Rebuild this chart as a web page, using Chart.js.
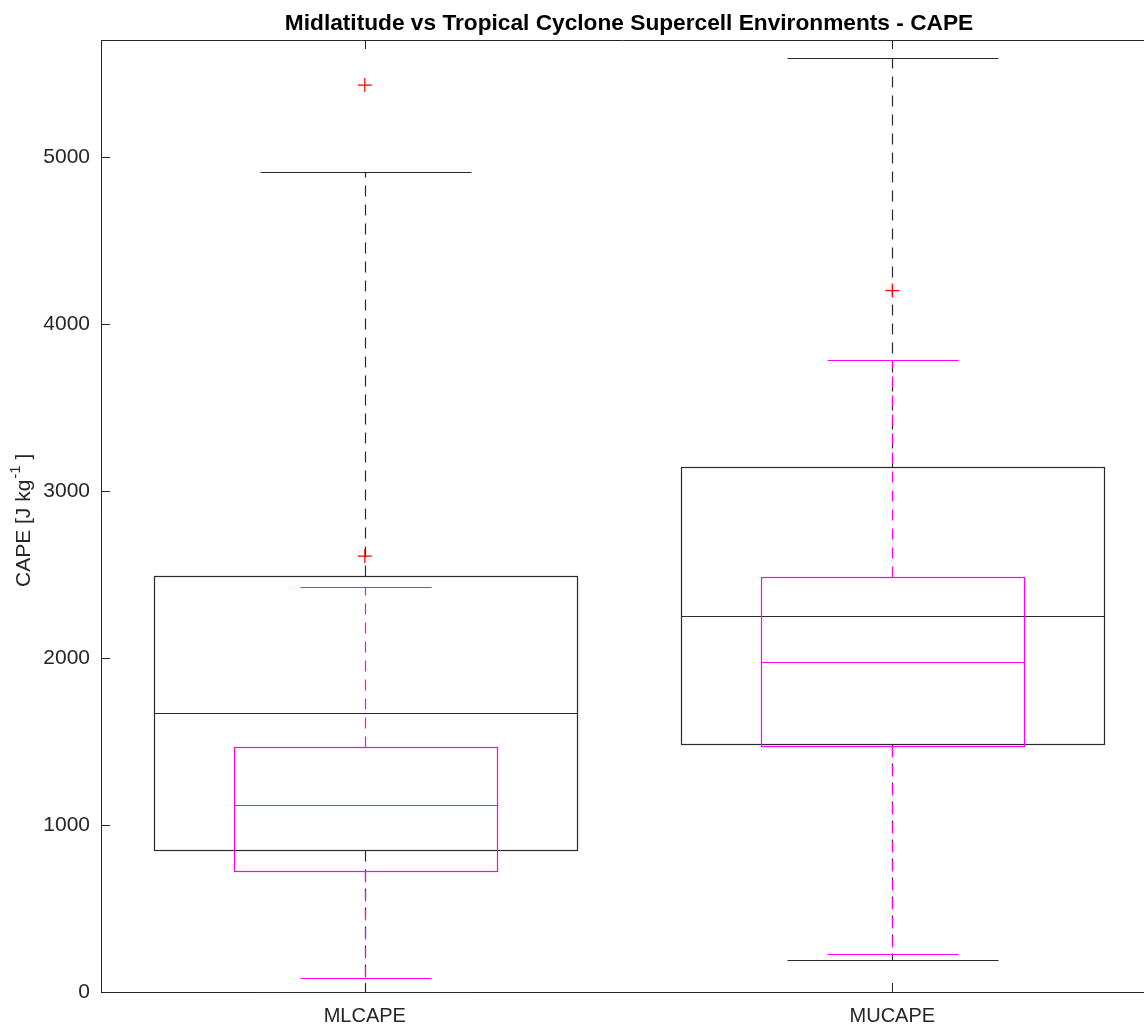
<!DOCTYPE html>
<html>
<head>
<meta charset="utf-8">
<script src="https://cdn.jsdelivr.net/npm/chart.js@4.4.0/dist/chart.umd.min.js"></script>
<style>
  html, body { margin: 0; padding: 0; background: #fff; }
  #wrap { width: 1144px; height: 1025px; }
</style>
</head>
<body>
<div id="wrap"><canvas id="myChart" width="1144" height="1025"></canvas></div>
<script>
const categories = ['MLCAPE', 'MUCAPE'];
const yTicks = [0, 1000, 2000, 3000, 4000, 5000];

// midlatitude group (black boxes)
const midLow = [0, 193];
const midQ1 = [851, 1484];
const midMedian = [1669, 2254];
const midQ3 = [2489, 3145];
const midHigh = [4910, 5590];
const midOutliers = [[5430], []];

// tropical cyclone group (magenta boxes)
const tcLow = [84, 226];
const tcQ1 = [722, 1472];
const tcMedian = [1119, 1976];
const tcQ3 = [1464, 2483];
const tcHigh = [2423, 3787];
const tcOutliers = [[2610], [4200]];

const FONT = "'Liberation Sans', Arial, Helvetica, sans-serif";
const AXIS_COLOR = '#262626';

const groups = [
    { low: midLow, q1: midQ1, med: midMedian, q3: midQ3, high: midHigh, color: '#2a2a2a', width: 0.8 },
    { low: tcLow, q1: tcQ1, med: tcMedian, q3: tcQ3, high: tcHigh, color: '#ff00ff', width: 0.5 }
];

function toPoints(list) {
    const pts = [];
    list.forEach((vals, i) => {
        vals.forEach(v => pts.push({ x: i + 1, y: v }));
    });
    return pts;
}

function px(v) {
    return Math.round(v) + 0.5;
}

const boxPlugin = {
    id: 'boxPlugin',
    beforeDatasetsDraw(chart) {
        const ctx = chart.ctx;
        const x = chart.scales.x;
        const y = chart.scales.y;
        ctx.save();
        groups.forEach(g => {
            ctx.strokeStyle = g.color;
            ctx.lineWidth = 1.2;
            categories.forEach((c, i) => {
                const cx = px(x.getPixelForValue(i + 1));
                const half = x.getPixelForValue(i + 1 + g.width / 2) - x.getPixelForValue(i + 1);
                const l = px(cx - half), r = px(cx + half);
                const capL = px(cx - half / 2), capR = px(cx + half / 2);
                const yq1 = px(y.getPixelForValue(g.q1[i]));
                const yq3 = px(y.getPixelForValue(g.q3[i]));
                const ymed = px(y.getPixelForValue(g.med[i]));
                const ylo = px(y.getPixelForValue(g.low[i]));
                const yhi = px(y.getPixelForValue(g.high[i]));

                // whiskers
                ctx.setLineDash([11, 8]);
                ctx.beginPath();
                ctx.moveTo(cx, yq3); ctx.lineTo(cx, yhi);
                ctx.moveTo(cx, yq1); ctx.lineTo(cx, ylo);
                ctx.stroke();
                ctx.setLineDash([]);

                // caps
                ctx.beginPath();
                ctx.moveTo(capL, yhi); ctx.lineTo(capR, yhi);
                ctx.moveTo(capL, ylo); ctx.lineTo(capR, ylo);
                ctx.stroke();

                // box and median
                ctx.strokeRect(l, yq3, r - l, yq1 - yq3);
                ctx.beginPath();
                ctx.moveTo(l, ymed); ctx.lineTo(r, ymed);
                ctx.stroke();
            });
        });
        ctx.restore();
    },
    afterDraw(chart) {
        const ctx = chart.ctx;
        const area = chart.chartArea;
        const x = chart.scales.x;
        const y = chart.scales.y;
        ctx.save();

        // top border and inward ticks
        ctx.strokeStyle = AXIS_COLOR;
        ctx.lineWidth = 1;
        ctx.beginPath();
        ctx.moveTo(area.left, px(area.top));
        ctx.lineTo(area.right, px(area.top));
        yTicks.forEach(v => {
            const yy = px(y.getPixelForValue(v));
            ctx.moveTo(area.left, yy);
            ctx.lineTo(area.left + 9, yy);
        });
        categories.forEach((c, i) => {
            const xx = px(x.getPixelForValue(i + 1));
            ctx.moveTo(xx, area.top);
            ctx.lineTo(xx, area.top + 9);
            ctx.moveTo(xx, area.bottom);
            ctx.lineTo(xx, area.bottom - 9);
        });
        ctx.stroke();

        // title
        ctx.fillStyle = '#000';
        ctx.font = 'bold 22.7px ' + FONT;
        ctx.textAlign = 'center';
        ctx.textBaseline = 'alphabetic';
        ctx.fillText('Midlatitude vs Tropical Cyclone Supercell Environments - CAPE', 629, 30);

        // y axis label with superscript
        ctx.translate(30, 587);
        ctx.rotate(-Math.PI / 2);
        ctx.textAlign = 'left';
        ctx.fillStyle = AXIS_COLOR;
        ctx.font = '21px ' + FONT;
        const main = 'CAPE [J kg';
        ctx.fillText(main, 0, 0);
        let w = ctx.measureText(main).width;
        ctx.font = '15px ' + FONT;
        ctx.fillText('-1', w + 1, -10);
        w += ctx.measureText('-1').width + 1;
        ctx.font = '21px ' + FONT;
        ctx.fillText(' ]', w, 0);
        ctx.restore();
    }
};

const ctx = document.getElementById('myChart').getContext('2d');
const myChart = new Chart(ctx, {
    type: 'scatter',
    data: {
        datasets: [{
            label: 'Midlatitude outliers',
            data: toPoints(midOutliers),
            pointStyle: 'cross',
            pointRadius: 7,
            borderColor: '#ff0000',
            borderWidth: 1.2
        }, {
            label: 'TC outliers',
            data: toPoints(tcOutliers),
            pointStyle: 'cross',
            pointRadius: 7,
            borderColor: '#ff0000',
            borderWidth: 1.2
        }]
    },
    options: {
        responsive: false,
        animation: false,
        devicePixelRatio: 1,
        layout: { autoPadding: false, padding: { top: 40, left: 0, right: 0, bottom: 0 } },
        plugins: {
            legend: { display: false },
            title: { display: false },
            tooltip: { enabled: false }
        },
        scales: {
            x: {
                type: 'linear',
                min: 0.5,
                max: 2.477,
                afterBuildTicks: s => { s.ticks = categories.map((c, i) => ({ value: i + 1 })); },
                afterFit: s => { s.height = 33; },
                ticks: {
                    callback: v => categories[v - 1],
                    font: { family: FONT, size: 20 },
                    color: AXIS_COLOR,
                    padding: 12,
                    maxRotation: 0,
                    autoSkip: false
                },
                grid: { display: false, drawTicks: false },
                border: { display: true, color: AXIS_COLOR, width: 1 }
            },
            y: {
                min: 0,
                max: 5700,
                afterBuildTicks: s => { s.ticks = yTicks.map(v => ({ value: v })); },
                afterFit: s => { s.width = 101; },
                ticks: {
                    callback: v => String(v),
                    font: { family: FONT, size: 21 },
                    color: AXIS_COLOR,
                    padding: 11
                },
                grid: { display: false, drawTicks: false },
                border: { display: true, color: AXIS_COLOR, width: 1 }
            }
        }
    },
    plugins: [boxPlugin]
});
</script>
</body>
</html>
